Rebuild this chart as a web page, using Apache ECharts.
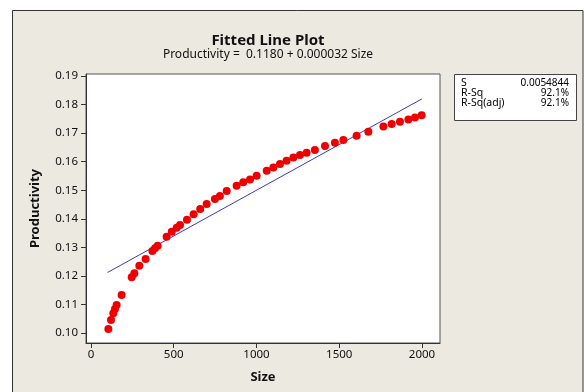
<!DOCTYPE html>
<html>
<head>
<meta charset="utf-8">
<script src="https://cdn.jsdelivr.net/npm/echarts@6/dist/echarts.min.js"></script>
<style>
html,body{margin:0;padding:0;background:#fff;}
#chart{width:584px;height:392px;}
</style>
</head>
<body>
<div id="chart"></div>
<script>
// ---- data ----
var sizeValues = [105,121,135,145,155,185,246,262,292,330,371,387,403,457,488,518,538,580,620,660,699,749,779,820,880,920,961,1001,1062,1102,1142,1182,1223,1263,1303,1353,1414,1474,1525,1605,1676,1767,1817,1867,1918,1958,1998];
var productivityValues = [0.1014,0.1046,0.1069,0.1084,0.1098,0.1133,0.1195,0.1209,0.1236,0.1259,0.1287,0.1297,0.1306,0.1337,0.1355,0.1369,0.1378,0.1397,0.1416,0.1434,0.1452,0.1469,0.1480,0.1497,0.1516,0.1528,0.1538,0.1551,0.1568,0.1580,0.1592,0.1603,0.1615,0.1623,0.1631,0.1641,0.1655,0.1666,0.1676,0.1691,0.1705,0.1723,0.1732,0.1740,0.1748,0.1755,0.1763];
var fitIntercept = 0.1180;
var fitSlope = 0.000032;
var fitRange = [100, 2000];
var xTicks = [0, 500, 1000, 1500, 2000];
var yTicks = [0.10, 0.11, 0.12, 0.13, 0.14, 0.15, 0.16, 0.17, 0.18, 0.19];
var statLabels = ['S', 'R-Sq', 'R-Sq(adj)'];
var statValues = ['0.0054844', '92.1%', '92.1%'];
var titleText = 'Fitted Line Plot';
var subtitleText = 'Productivity =  0.1180 + 0.000032 Size';

var pts = sizeValues.map(function (s, i) { return [s, productivityValues[i]]; });
var fitPts = fitRange.map(function (s) { return [s, fitIntercept + fitSlope * s]; });

var FONT = '"Noto Sans", "DejaVu Sans", sans-serif';
var chart = echarts.init(document.getElementById('chart'), null, {renderer: 'canvas'});

var graphics = [
  {type: 'rect', z: -10, silent: true, shape: {x: 12.5, y: 10.5, width: 570.5, height: 400}, style: {fill: '#ECE9E1', stroke: '#333', lineWidth: 1}},
  {type: 'rect', z: 10, shape: {x: 454.5, y: 74.5, width: 122, height: 46}, style: {fill: '#fff', stroke: '#444', lineWidth: 1}}
];
statLabels.forEach(function (l, i) {
  graphics.push({type: 'text', z: 11, x: 461, y: 83 + i * 10, style: {text: l, font: '10.5px ' + FONT, fill: '#000', verticalAlign: 'middle', align: 'left'}});
  graphics.push({type: 'text', z: 11, x: 569, y: 83 + i * 10, style: {text: statValues[i], font: '10px ' + FONT, fill: '#000', verticalAlign: 'middle', align: 'right'}});
});

chart.setOption({
  backgroundColor: '#fff',
  animation: false,
  title: {
    text: titleText,
    subtext: subtitleText,
    left: 263, top: 28, textAlign: 'center',
    itemGap: 1,
    textStyle: {fontFamily: FONT, fontSize: 15, fontWeight: 'bold', color: '#111'},
    subtextStyle: {fontFamily: FONT, fontSize: 12, color: '#111'}
  },
  graphic: graphics,
  grid: {left: 86, top: 74, width: 354, height: 269, show: true, backgroundColor: '#fff', borderColor: '#555', borderWidth: 1},
  xAxis: {
    type: 'value', min: -30.2, max: 2109,
    name: 'Size', nameLocation: 'middle', nameGap: 28,
    nameTextStyle: {fontFamily: FONT, fontSize: 13, fontWeight: 'bold', color: '#111'},
    axisLine: {show: true, onZero: false, lineStyle: {color: '#333'}},
    axisTick: {show: true, length: 5, inside: false, customValues: xTicks, lineStyle: {color: '#333'}},
    axisLabel: {customValues: xTicks, fontFamily: FONT, fontSize: 11.5, color: '#111', margin: 6,
      formatter: function (v) { return String(v); }},
    splitLine: {show: false}
  },
  yAxis: {
    type: 'value', min: 0.09651, max: 0.1907,
    name: 'Productivity', nameLocation: 'middle', nameGap: 44,
    nameTextStyle: {fontFamily: FONT, fontSize: 13, fontWeight: 'bold', color: '#111'},
    axisLine: {show: true, onZero: false, lineStyle: {color: '#333'}},
    axisTick: {show: true, length: 5, inside: false, customValues: yTicks, lineStyle: {color: '#333'}},
    axisLabel: {customValues: yTicks, fontFamily: FONT, fontSize: 11.5, color: '#111', margin: 8,
      formatter: function (v) { return v.toFixed(2); }},
    splitLine: {show: false}
  },
  series: [
    {type: 'line', data: fitPts, showSymbol: false, symbol: 'none', lineStyle: {color: '#3a3acc', width: 1}, z: 2},
    {type: 'scatter', data: pts, symbol: 'circle', symbolSize: 8, itemStyle: {color: '#ee0000', opacity: 1}, z: 3}
  ]
});
</script>
</body>
</html>
